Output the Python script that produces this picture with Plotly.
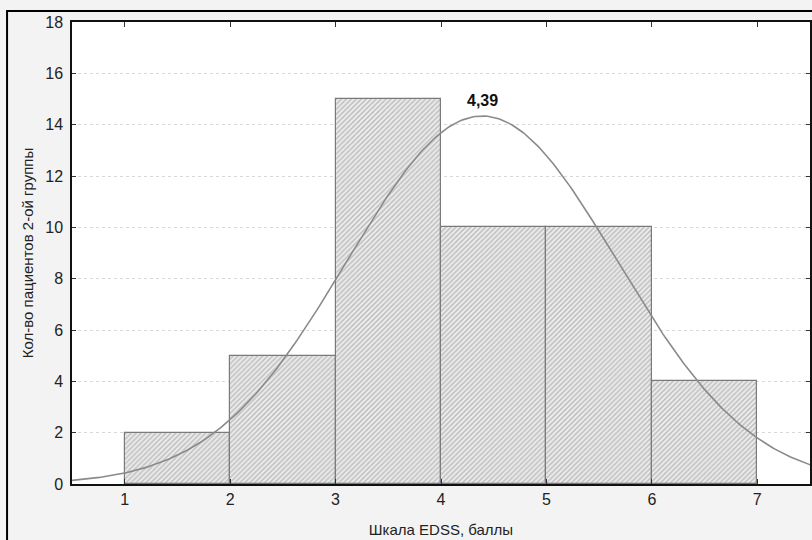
import numpy as np
import plotly.graph_objects as go

# Histogram of EDSS scores, group 2
bin_left = [1, 2, 3, 4, 5, 6]
counts = [2, 5, 15, 10, 10, 4]
bin_width = 1.0

# Fitted normal curve parameters
fit_mean = 4.39
fit_sd = 1.28

y_ticks = [0, 2, 4, 6, 8, 10, 12, 14, 16, 18]
x_ticks = [1, 2, 3, 4, 5, 6, 7]

x_title = "Шкала EDSS, баллы"
y_title = "Кол-во пациентов 2-ой группы"

n_total = sum(counts)
centers = [b + bin_width / 2 for b in bin_left]

xs = np.linspace(0.5, 7.6, 300)
ys = n_total * bin_width / (fit_sd * np.sqrt(2 * np.pi)) * np.exp(-0.5 * ((xs - fit_mean) / fit_sd) ** 2)
peak = n_total * bin_width / (fit_sd * np.sqrt(2 * np.pi))

fig = go.Figure()
fig.add_trace(go.Bar(
    x=centers, y=counts, width=[bin_width] * len(counts),
    marker=dict(
        color="#d4d4d4",
        line=dict(color="#7a7a7a", width=1.2),
        pattern=dict(shape="/", fgcolor="#8e8e8e", bgcolor="#eeeeee", size=3.5, solidity=0.45),
    ),
    hoverinfo="skip",
))
fig.add_trace(go.Scatter(
    x=xs, y=ys, mode="lines",
    line=dict(color="#8a8a8a", width=1.6),
    hoverinfo="skip",
))

fig.add_annotation(
    x=fit_mean, y=peak, yshift=16, showarrow=False,
    text="<b>" + f"{fit_mean:.2f}".replace(".", ",") + "</b>",
    font=dict(family="Liberation Sans, Arial", size=16, color="#111"),
)

# outer frame of the figure
fig.add_shape(type="rect", xref="paper", yref="paper",
              x0=-0.088, x1=1.2, y0=-0.3, y1=1.024,
              line=dict(color="#000", width=2), fillcolor="rgba(0,0,0,0)", layer="below")

fig.update_layout(
    width=812, height=540,
    margin=dict(l=72, r=0, t=22, b=56),
    paper_bgcolor="#f3f3f3",
    plot_bgcolor="#ffffff",
    showlegend=False,
    bargap=0,
    font=dict(family="Liberation Sans, Arial", size=16, color="#222"),
    xaxis=dict(
        range=[0.5, 7.5], tickvals=x_ticks, ticks="inside", ticklen=5,
        tickcolor="#333", showgrid=False, zeroline=False,
        showline=True, linecolor="#111", linewidth=1.5, mirror="ticks",
        title=dict(text=x_title, font=dict(size=15), standoff=18),
    ),
    yaxis=dict(
        range=[0, 18], tickvals=y_ticks, ticks="inside", ticklen=4,
        tickcolor="#333", showgrid=True, gridcolor="#d8d8d8", griddash="dot", gridwidth=1,
        zeroline=False, showline=True, linecolor="#111", linewidth=1.5, mirror="ticks",
        ticklabelstandoff=4,
        title=dict(text=y_title, font=dict(size=15), standoff=8),
    ),
)

fig.write_html("out.html")
